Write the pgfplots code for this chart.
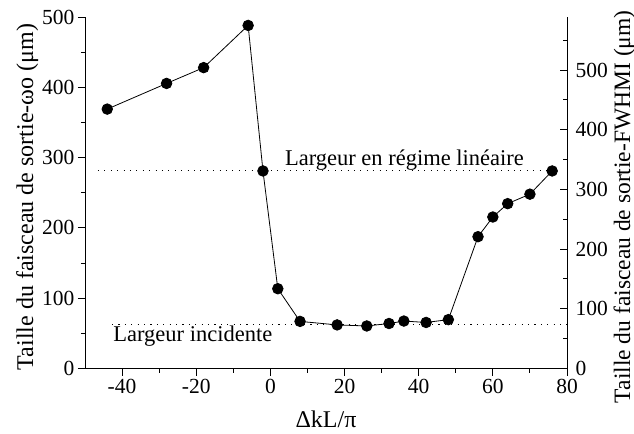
\documentclass[border=0pt]{standalone}
\usepackage{fontspec}
\setmainfont{Liberation Serif}
\usepackage{pgfplots}
\pgfplotsset{compat=1.18}

\begin{document}
\begin{tikzpicture}
\pgfplotsset{
  every axis/.append style={font=\fontsize{21.5bp}{25bp}\selectfont},
  every axis label/.append style={font=\fontsize{24bp}{28bp}\selectfont},
  /pgf/number format/assume math mode=true,
  beam axis/.style={
    at={(0,0)}, anchor=south west,
    scale only axis, width=482bp, height=351.5bp,
    xmin=-50, xmax=80,
    major tick length=7bp, minor tick length=4bp,
    axis line style={line width=0.9bp, -},
    every tick/.style={line width=0.9bp, black},
    clip=false,
  },
}
\path[use as bounding box] (-85bp,-65.5bp) rectangle (549bp,368.5bp);

% waist (1/e^2 radius) scale
\begin{axis}[
  beam axis,
  ymin=0, ymax=500,
  axis x line*=bottom, axis y line*=left,
  tick align=outside,
  xtick={-40,-20,...,80}, minor xtick={-30,-10,...,70},
  ytick={0,100,...,500}, minor ytick={50,150,...,450},
  xlabel={ΔkL/π},
  ylabel={Taille du faisceau de sortie-ωo (μm)},
  xlabel style={at={(axis description cs:0.5,-0.144)}, anchor=center},
  ylabel style={at={(axis description cs:-0.120,0.488)}, anchor=center},
]
  % linear-regime width and incident width
  \addplot[black, line width=0.8bp, dash pattern=on 1.1bp off 5.3bp]
    coordinates {(-46.5,281.5) (76,281.5)};
  \addplot[black, line width=0.8bp, dash pattern=on 1.1bp off 5.3bp]
    coordinates {(-42.7,63) (80,63)};
  \addplot[black, line width=0.8bp, mark=*, mark size=5.3bp,
           mark options={solid, fill=black}]
    coordinates {
      (-44,369) (-28,405.5) (-18,428) (-6,488) (-2,281)
      (2,113.5) (8,67) (18,62) (26,60.5) (32,64) (36,67.5)
      (42,65.5) (48,69.5) (56,187.5) (60,215.5) (64,234.5)
      (70,248) (76,281)
    };
  \node[anchor=base west, inner sep=0pt,
        font=\fontsize{22.5bp}{26bp}\selectfont] at (axis cs:3.9,288.5)
    {Largeur en régime linéaire};
  \node[anchor=base west, inner sep=0pt,
        font=\fontsize{22.5bp}{26bp}\selectfont] at (axis cs:-42.4,38.2)
    {Largeur incidente};
\end{axis}

% FWHM scale: FWHM = sqrt(2 ln 2) * w
\begin{axis}[
  beam axis,
  ymin=0, ymax=588.7,
  axis x line=none, axis y line*=right,
  tick align=inside,
  ytick={0,100,...,500}, minor ytick={50,150,...,550},
  yticklabel style={xshift=5bp},
  ylabel={Taille du faisceau de sortie-FWHMI (μm)},
  ylabel style={at={(axis description cs:1.119,0.46)}, anchor=center, rotate=0,
                font=\fontsize{23.5bp}{27bp}\selectfont},
]
  \addplot[draw=none] coordinates {(0,0)};
\end{axis}
\end{tikzpicture}
\end{document}
